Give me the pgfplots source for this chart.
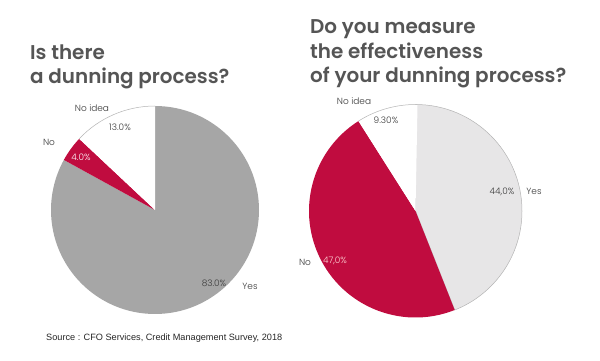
\documentclass[border=0pt]{standalone}
\usepackage{pgfplots}
\pgfplotsset{compat=1.18}
\usepackage{pgfplotstable}
\usepackage{fontspec}
\setmainfont{Poppins}
\newfontfamily\titlefont{Poppins}[UprightFont=* SemiBold]
\newfontfamily\labfont{Poppins}[UprightFont=* Light]
\setsansfont{Liberation Sans}
\definecolor{cred}{HTML}{C00C3F}
\definecolor{cgrey}{HTML}{A6A6A6}
\definecolor{clight}{HTML}{E7E6E7}
\definecolor{cedge}{HTML}{B4B4B4}
\definecolor{ctitle}{HTML}{555555}
\definecolor{clab}{HTML}{3A3A3A}

\pgfplotstableread{
label value
Yes 83.0
No 4.0
NoIdea 13.0
}\tableA
\pgfplotstableread{
label value
Yes 44.0
No 47.0
NoIdea 9.3
}\tableB
\pgfplotstablegetelem{0}{value}\of\tableA \let\vAa\pgfplotsretval
\pgfplotstablegetelem{1}{value}\of\tableA \let\vAb\pgfplotsretval
\pgfplotstablegetelem{2}{value}\of\tableA \let\vAc\pgfplotsretval
\pgfplotstablegetelem{0}{value}\of\tableB \let\vBa\pgfplotsretval
\pgfplotstablegetelem{1}{value}\of\tableB \let\vBb\pgfplotsretval
\pgfplotstablegetelem{2}{value}\of\tableB \let\vBc\pgfplotsretval
\pgfmathsetmacro{\eAa}{90-3.6*\vAa}
\pgfmathsetmacro{\eAb}{\eAa-3.6*\vAb}
\pgfmathsetmacro{\eAc}{\eAb-3.6*\vAc}
\pgfmathsetmacro{\eBa}{90-3.6*\vBa}
\pgfmathsetmacro{\eBb}{\eBa-3.6*\vBb}
\pgfmathsetmacro{\eBc}{\eBb-3.6*\vBc}

\begin{document}%
\begin{tikzpicture}
\path[use as bounding box] (0,0) rectangle (600bp,361bp);
% pie 1
\begin{axis}[hide axis, scale only axis, width=208bp, height=208bp,
  xmin=-1, xmax=1, ymin=-1, ymax=1, anchor=center, at={(155bp,151bp)}, clip=false]
\fill[cgrey] (0,0) -- (0,1) arc[start angle=90, end angle=\eAa, radius=1] -- cycle;
\fill[cred] (0,0) -- ({cos(\eAa)},{sin(\eAa)}) arc[start angle=\eAa, end angle=\eAb, radius=1] -- cycle;
\fill[white] (0,0) -- ({cos(\eAb)},{sin(\eAb)}) arc[start angle=\eAb, end angle=\eAc, radius=1] -- cycle;
\draw[cedge, line width=0.5bp] ({cos(\eAb)},{sin(\eAb)}) arc[start angle=\eAb, end angle=\eAc, radius=1];
\end{axis}
% pie 2
\begin{axis}[hide axis, scale only axis, width=213bp, height=213bp,
  xmin=-1, xmax=1, ymin=-1, ymax=1, anchor=center, at={(415.5bp,150bp)}, clip=false]
\filldraw[fill=clight, draw=cedge, line width=0.5bp] (0,0) -- (0,1) arc[start angle=90, end angle=\eBa, radius=1] -- cycle;
\fill[cred] (0,0) -- ({cos(\eBa)},{sin(\eBa)}) arc[start angle=\eBa, end angle=\eBb, radius=1] -- cycle;
\fill[white] (0,0) -- ({cos(\eBb)},{sin(\eBb)}) arc[start angle=\eBb, end angle=\eBc, radius=1] -- cycle;
\draw[cedge, line width=0.5bp] ({cos(\eBb)},{sin(\eBb)}) arc[start angle=\eBb, end angle=\eBc, radius=1];
\end{axis}
% titles
\begin{scope}[every node/.style={inner sep=0pt, anchor=base west, text=ctitle, font=\titlefont\fontsize{20}{24}\selectfont}]
\node at (30bp,301bp) {Is there};
\node at (30bp,277bp) {a dunning process?};
\node at (310bp,327bp) {Do you measure};
\node at (310bp,302bp) {the effectiveness};
\node at (310bp,278bp) {of your dunning process?};
\end{scope}
% labels
\begin{scope}[every node/.style={inner sep=0pt, anchor=center, text=clab, font=\labfont\fontsize{9}{10}\selectfont}]
\node at (92bp,253bp) {No idea};
\node at (120bp,234bp) {13.0\%};
\node at (49bp,219bp) {No};
\node[text=white] at (81bp,204bp) {4.0\%};
\node at (214bp,78bp) {83.0\%};
\node at (250bp,75bp) {Yes};
\node at (354bp,260bp) {No idea};
\node at (386bp,241bp) {9.30\%};
\node at (502bp,169bp) {44,0\%};
\node at (534bp,170bp) {Yes};
\node at (305bp,99bp) {No};
\node[text=red!15!white] at (335bp,100bp) {47,0\%};
\end{scope}
\node[inner sep=0pt, anchor=base west, text=black!85, font=\sffamily\fontsize{9.2}{10}\selectfont] at (46bp,21bp) {Source : CFO Services, Credit Management Survey, 2018};
\end{tikzpicture}%
\end{document}
